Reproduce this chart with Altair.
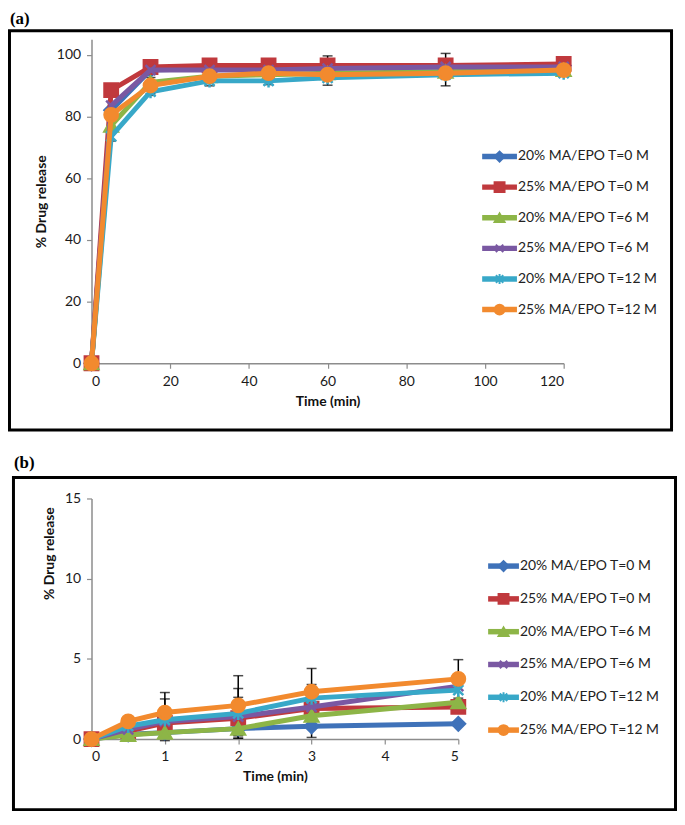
import altair as alt
import pandas as pd

# ---------------- data ----------------
SERIES = [
    "20% MA/EPO T=0 M",
    "25% MA/EPO T=0 M",
    "20% MA/EPO T=6 M",
    "25% MA/EPO T=6 M",
    "20% MA/EPO T=12 M",
    "25% MA/EPO T=12 M",
]
COLORS = ["#3F72B9", "#C0393D", "#8DB547", "#7A58A2", "#38A8C8", "#F28A2E"]
X_PATH = "M-0.75,-0.75L0.75,0.75M-0.75,0.75L0.75,-0.75"
STAR_PATH = "M-0.75,-0.75L0.75,0.75M-0.75,0.75L0.75,-0.75M0,-1L0,1"
SHAPES = ["diamond", "square", "triangle-up", X_PATH, STAR_PATH, "circle"]

# panel (a)
TIME_A = [0, 5, 15, 30, 45, 60, 90, 120]
A_20_0 = [0, 82, 95, 95.5, 95.5, 96, 96, 96.5]
A_25_0 = [0, 88.5, 96, 96.5, 96.5, 96.5, 96.5, 97]
A_20_6 = [0, 77, 91, 93, 93.5, 94, 94.5, 95]
A_25_6 = [0, 83.5, 95, 95, 95, 95.5, 96, 96]
A_20_12 = [0, 73.5, 88, 91.5, 91.5, 92.5, 93.5, 94]
A_25_12 = [0, 80.5, 90, 93, 94, 93.5, 94, 95]
ERR_A_25_0 = [0, 1.5, 0.5, 0.8, 0.8, 3.1, 3.9, 0]
ERR_A_20_12 = [0, 1.5, 1.2, 1.6, 1.2, 2.4, 3.6, 0]
ERR_A_25_12 = [0, 1.2, 2.6, 1.2, 0.8, 1.5, 1.5, 0]
ZERO_A = [0] * 8

# panel (b)
TIME_B = [0, 0.5, 1, 2, 3, 5]
B_20_0 = [0, 0.3, 0.4, 0.65, 0.8, 0.95]
B_25_0 = [0, 0.5, 1.0, 1.3, 1.9, 2.0]
B_20_6 = [0, 0.25, 0.4, 0.65, 1.45, 2.3]
B_25_6 = [0, 0.6, 1.1, 1.4, 2.0, 3.3]
B_20_12 = [0, 0.8, 1.2, 1.6, 2.55, 3.05]
B_25_12 = [0, 1.1, 1.65, 2.1, 2.95, 3.75]
ERR_B_20_0 = [0, 0, 0, 0.6, 0.7, 0]
ERR_B_25_6 = [0, 0, 0, 1.2, 0, 0]
ERR_B_20_12 = [0, 0, 1.3, 1.55, 0.85, 0]
ERR_B_25_12 = [0, 0, 1.25, 1.85, 1.45, 1.2]
ZERO_B = [0] * 6

VALUES_A = [A_20_0, A_25_0, A_20_6, A_25_6, A_20_12, A_25_12]
ERRS_A = [ZERO_A, ERR_A_25_0, ZERO_A, ZERO_A, ERR_A_20_12, ERR_A_25_12]
VALUES_B = [B_20_0, B_25_0, B_20_6, B_25_6, B_20_12, B_25_12]
ERRS_B = [ERR_B_20_0, ZERO_B, ZERO_B, ERR_B_25_6, ERR_B_20_12, ERR_B_25_12]

FONT = "Lato"

color_scale = alt.Scale(domain=SERIES, range=COLORS)
shape_scale = alt.Scale(domain=SERIES, range=SHAPES)


def long_df(times, values, errs):
    rows = []
    for s, vals, er in zip(SERIES, values, errs):
        for t, v, e in zip(times, vals, er):
            rows.append({"time": t, "value": v, "series": s,
                         "lo": v - e, "hi": v + e, "err": e})
    return pd.DataFrame(rows)


def panel(label, times, values, errs, xdom, xvals, ydom, yvals, w, h,
          frame, label_xy, leg_range, leg_x, ytitle_y):
    df = long_df(times, values, errs)
    x_enc = alt.X("time:Q", scale=alt.Scale(domain=xdom, nice=False, zero=False),
                  axis=alt.Axis(values=xvals, title="Time (min)", labelPadding=6,
                                titlePadding=6, format="d"))
    y_axis = alt.Axis(values=yvals, title="% Drug release", labelPadding=6,
                      titlePadding=8, titleY=ytitle_y)
    y_enc = alt.Y("value:Q", scale=alt.Scale(domain=ydom, nice=False), axis=y_axis)
    col = alt.Color("series:N", scale=color_scale, legend=None)
    strk = alt.Stroke("series:N", scale=color_scale, legend=None)
    shp = alt.Shape("series:N", scale=shape_scale, legend=None)

    one = pd.DataFrame({"label": [label]})
    frame_layer = alt.Chart(one).mark_rect(
        fillOpacity=0, stroke="black", strokeWidth=3
    ).encode(x=alt.value(frame[0]), x2=alt.value(frame[1]),
             y=alt.value(frame[2]), y2=alt.value(frame[3]))
    label_layer = alt.Chart(one).mark_text(
        align="left", baseline="middle", font="Liberation Serif",
        fontWeight="bold", fontSize=17, color="black"
    ).encode(x=alt.value(label_xy[0]), y=alt.value(label_xy[1]), text="label:N")

    edf = df[df["err"] > 0]
    ysc = alt.Scale(domain=ydom, nice=False)
    err_rule = alt.Chart(edf).mark_rule(color="black", strokeWidth=1.5).encode(
        x=x_enc, y=alt.Y("lo:Q", scale=ysc, axis=y_axis), y2="hi:Q")
    err_top = alt.Chart(edf).mark_tick(color="black", orient="horizontal",
                                       size=10, thickness=1.5).encode(
        x=x_enc, y=alt.Y("hi:Q", scale=ysc, axis=y_axis))
    err_bot = alt.Chart(edf).mark_tick(color="black", orient="horizontal",
                                       size=10, thickness=1.5).encode(
        x=x_enc, y=alt.Y("lo:Q", scale=ysc, axis=y_axis))

    layers = [frame_layer, label_layer, err_rule, err_top, err_bot]
    for s in SERIES:
        sdf = df[df["series"] == s]
        layers.append(alt.Chart(sdf).mark_line(strokeWidth=5).encode(
            x=x_enc, y=y_enc, color=col))
        layers.append(alt.Chart(sdf).mark_point(
            filled=True, size=180, strokeWidth=2.5, opacity=1).encode(
            x=x_enc, y=y_enc, color=col, stroke=strk, shape=shp))
    data_part = alt.layer(*layers)

    leg_df = pd.DataFrame({"series": SERIES})
    ly = alt.Y("series:N", sort=SERIES, axis=None,
               scale=alt.Scale(type="point", range=leg_range, padding=0))
    leg_rule = alt.Chart(leg_df).mark_rule(strokeWidth=5.5).encode(
        x=alt.value(leg_x[0]), x2=alt.value(leg_x[1]), y=ly, color=col)
    leg_pts = alt.Chart(leg_df).mark_point(
        filled=True, size=100, strokeWidth=2, opacity=1).encode(
        x=alt.value((leg_x[0] + leg_x[1]) / 2), y=ly, color=col, stroke=strk, shape=shp)
    leg_txt = alt.Chart(leg_df).mark_text(
        align="left", baseline="middle", font=FONT, fontSize=14, color="#222222"
    ).encode(x=alt.value(leg_x[1] + 1), y=ly, text="series:N")
    legend_part = alt.layer(leg_rule, leg_pts, leg_txt)

    return alt.layer(data_part, legend_part).resolve_scale(
        y="independent").properties(width=w, height=h)


top = panel("(a)", TIME_A, VALUES_A, ERRS_A, [0, 120], [0, 20, 40, 60, 80, 100, 120],
            [0, 105], [0, 20, 40, 60, 80, 100], 475, 326,
            frame=[-82.5, 583.5, -8.5, 393], label_xy=[-82, -20],
            leg_range=[118, 272], leg_x=[393, 428], ytitle_y=163)

bottom = panel("(b)", TIME_B, VALUES_B, ERRS_B, [0, 5], [0, 1, 2, 3, 4, 5],
               [0, 15], [0, 5, 10, 15], 369, 242,
               frame=[-78.5, 587.5, -21, 313], label_xy=[-78, -36],
               leg_range=[68, 233], leg_x=[399, 430], ytitle_y=55)

chart = alt.vconcat(top, bottom, spacing=22).properties(padding=0).configure_view(
    stroke=None
).configure_axis(
    grid=False, domainColor="#8c8c8c", tickColor="#8c8c8c", domainWidth=1.5,
    tickWidth=1.2, tickSize=5, labelFont=FONT, labelFontSize=14,
    labelColor="#1a1a1a", titleFont=FONT, titleFontSize=14,
    titleFontWeight="bold", titleColor="#111111"
)

chart.save("out.html", embed_options={"renderer": "svg", "actions": False})
